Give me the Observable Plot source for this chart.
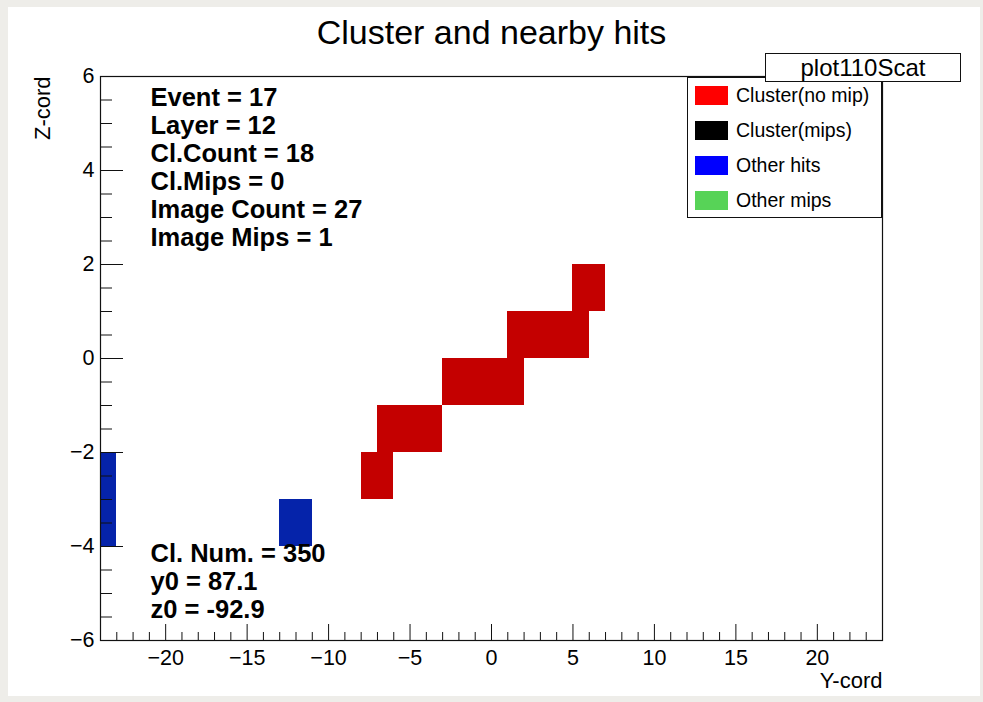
<!DOCTYPE html>
<html>
<head>
<meta charset="utf-8">
<script src="https://cdn.jsdelivr.net/npm/d3@7"></script>
<script src="https://cdn.jsdelivr.net/npm/@observablehq/plot@0.6"></script>
<style>
  html, body { margin: 0; padding: 0; background: #eeede9; overflow: hidden; }
  #page { position: relative; width: 983px; height: 702px; }
  #canvas { position: absolute; left: 8px; top: 7px; width: 972px; height: 689px; background: #fff; }
  #chart { position: absolute; left: 0; top: 0; }
  .box { position: absolute; background: #fff; border: 1px solid #111; box-sizing: border-box;
         font-family: "Liberation Sans", Arial, Helvetica, sans-serif; color: #000; }
  #pad { left: 765px; top: 53px; width: 196px; height: 29px; font-size: 24px; text-align: center; line-height: 27px; z-index: 3; }
  #legend { left: 687px; top: 77px; width: 195px; height: 141px; z-index: 2; }
  .entry { position: absolute; left: 7px; height: 20px; display: flex; align-items: center; font-size: 19.5px; white-space: nowrap; }
  .swatch { width: 33px; height: 19px; margin-right: 8px; }
</style>
</head>
<body>
<div id="page">
  <div id="canvas"></div>
  <div id="chart"></div>
  <div id="pad" class="box"></div>
  <div id="legend" class="box"></div>
</div>
<script>
// Cluster hits (lower-left corner of each 1x1 cell)
const clusterY = [5, 6, 1, 2, 3, 4, 5, -3, -2, -1, 0, 1, -7, -6, -5, -4, -8, -7];
const clusterZ = [1, 1, 0, 0, 0, 0, 0, -1, -1, -1, -1, -1, -2, -2, -2, -2, -3, -3];
// Other hits in the image
const otherY = [-24, -24, -13, -12];
const otherZ = [-3, -4, -4, -4];

// Axis ticks and labels
const yCordTicks = [-20, -15, -10, -5, 0, 5, 10, 15, 20];
const zCordTicks = [-6, -4, -2, 0, 2, 4, 6];
const yCordMinor = d3.range(-23, 24, 1).filter(v => v % 5 !== 0);
const zCordMinor = d3.range(-5.5, 6, 0.5).filter(v => v % 2 !== 0);

// Text blocks
const statsTop = ["Event = 17", "Layer = 12", "Cl.Count = 18", "Cl.Mips = 0", "Image Count = 27", "Image Mips = 1"];
const statsBottom = ["Cl. Num. = 350", "y0 = 87.1", "z0 = -92.9"];
const title = "Cluster and nearby hits";
const padName = "plot110Scat";
const legendLabels = ["Cluster(no mip)", "Cluster(mips)", "Other hits", "Other mips"];
const legendColors = ["#ff0000", "#000000", "#0000ff", "#57d357"];

const cellFill = {cluster: "#c40000", other: "#0523aa"};
const font = '"Liberation Sans", Arial, Helvetica, sans-serif';

const W = 983, H = 702;
const mL = 100, mR = 101, mT = 76, mB = 62;
const plotW = W - mL - mR, plotH = H - mT - mB;

const clusterCells = clusterY.map((y, i) => ({y, z: clusterZ[i]}));
const otherCells = otherY.map((y, i) => ({y, z: otherZ[i]}));

const chart = Plot.plot({
  width: W,
  height: H,
  marginLeft: mL, marginRight: mR, marginTop: mT, marginBottom: mB,
  style: {background: "transparent", fontFamily: font, overflow: "visible"},
  x: {domain: [-24, 24]},
  y: {domain: [-6, 6]},
  marks: [
    Plot.rect(otherCells, {x1: "y", x2: d => d.y + 1, y1: "z", y2: d => d.z + 1,
      fill: cellFill.other, shapeRendering: "crispEdges"}),
    Plot.rect(clusterCells, {x1: "y", x2: d => d.y + 1, y1: "z", y2: d => d.z + 1,
      fill: cellFill.cluster, shapeRendering: "crispEdges"}),
    // inward ticks on the bottom axis
    Plot.ruleX(yCordTicks, {insetTop: plotH - 16, stroke: "#111", strokeWidth: 1}),
    Plot.ruleX(yCordMinor, {insetTop: plotH - 8, stroke: "#111", strokeWidth: 1}),
    // inward ticks on the left axis
    Plot.ruleY(zCordTicks, {insetRight: plotW - 23, stroke: "#111", strokeWidth: 1}),
    Plot.ruleY(zCordMinor, {insetRight: plotW - 12, stroke: "#111", strokeWidth: 1}),
    Plot.frame({stroke: "#111", strokeWidth: 1.2}),
    Plot.axisX(yCordTicks, {tickSize: 0, tickPadding: 9, fontSize: 21.5, label: null, fill: "#000"}),
    Plot.axisY(zCordTicks, {tickSize: 0, tickPadding: 6, fontSize: 21.5, label: null, fill: "#000"}),
    Plot.text([title], {text: d => d, frameAnchor: "top", dy: -43, fontSize: 34, fill: "#000", lineAnchor: "middle"}),
    Plot.text(["Y-cord"], {text: d => d, frameAnchor: "bottom-right", dy: 40, fontSize: 22, textAnchor: "end", lineAnchor: "middle", fill: "#000"}),
    Plot.text(["Z-cord"], {text: d => d, frameAnchor: "top-left", dx: -58, rotate: -90, fontSize: 22, textAnchor: "end", lineAnchor: "middle", fill: "#000"}),
    Plot.text([statsTop.join("\n")], {text: d => d, frameAnchor: "top-left", dx: 50, dy: 10,
      lineAnchor: "top", textAnchor: "start", fontSize: 25.5, fontWeight: "bold", lineHeight: 1.098, fill: "#000"}),
    Plot.text([statsBottom.join("\n")], {text: d => d, frameAnchor: "bottom-left", dx: 50, dy: -98,
      lineAnchor: "top", textAnchor: "start", fontSize: 25.5, fontWeight: "bold", lineHeight: 1.098, fill: "#000"})
  ]
});
document.getElementById("chart").appendChild(chart);

// Pad name box and legend
document.getElementById("pad").textContent = padName;
const legend = document.getElementById("legend");
const rowCenters = [17, 52, 87, 122.5];
legendLabels.forEach((label, i) => {
  const row = document.createElement("div");
  row.className = "entry";
  row.style.top = (rowCenters[i] - 10) + "px";
  const sw = document.createElement("div");
  sw.className = "swatch";
  sw.style.background = legendColors[i];
  const tx = document.createElement("span");
  tx.textContent = label;
  row.appendChild(sw);
  row.appendChild(tx);
  legend.appendChild(row);
});
</script>
</body>
</html>
